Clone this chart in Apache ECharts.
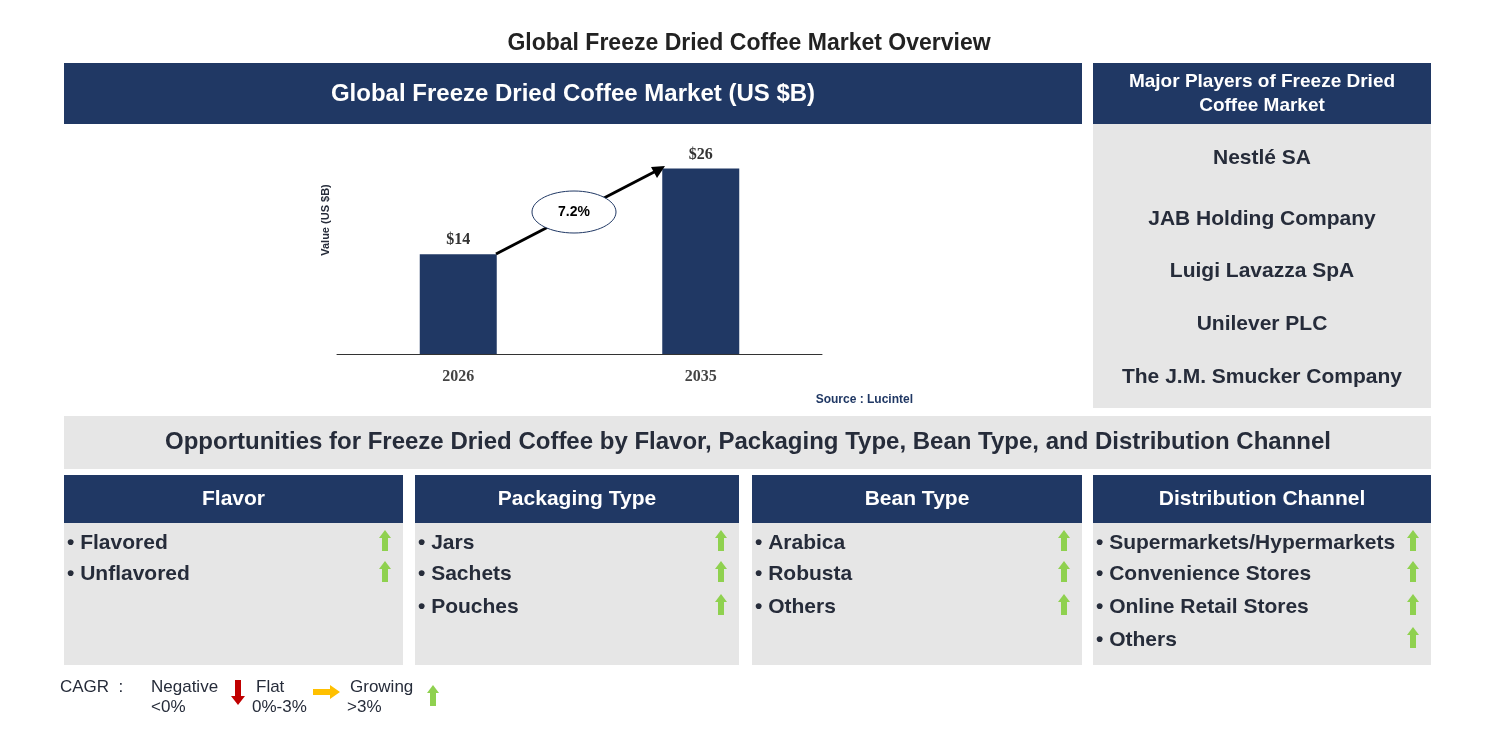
<!DOCTYPE html>
<html>
<head>
<meta charset="utf-8">
<script src="https://cdn.jsdelivr.net/npm/echarts@6/dist/echarts.min.js"></script>
<style>html,body{margin:0;padding:0;background:#fff}#main{width:1496px;height:747px}</style>
</head>
<body>
<div id="main"></div>
<script>
  let years = ['2026', '2035'];
  let values = [14, 26];
  let cagr = '7.2%';
  let players = ['Nestlé SA', 'JAB Holding Company', 'Luigi Lavazza SpA', 'Unilever PLC', 'The J.M. Smucker Company'];
  let segTitles = ['Flavor', 'Packaging Type', 'Bean Type', 'Distribution Channel'];
  let segItems = [
    ['Flavored', 'Unflavored'],
    ['Jars', 'Sachets', 'Pouches'],
    ['Arabica', 'Robusta', 'Others'],
    ['Supermarkets/Hypermarkets', 'Convenience Stores', 'Online Retail Stores', 'Others']
  ];

  let navy = '#203864';
  let grey = '#e6e6e6';
  let ink = '#262c3a';
  let font = 'Liberation Sans, Arial, sans-serif';
  let cols = [[64, 403], [415, 739], [752, 1082], [1093, 1431]];
  let itemY = [543, 574, 607, 640];
  let playerY = [158, 219, 271, 324, 377];

  function upArrow(cx, cy, color) {
    return {type: 'polygon', z: 10, shape: {points: [
      [cx - 3, cy + 10], [cx + 3, cy + 10], [cx + 3, cy - 3], [cx + 6, cy - 3],
      [cx, cy - 11], [cx - 6, cy - 3], [cx - 3, cy - 3]]}, style: {fill: color}};
  }
  function txt(x, y, text, size, opts) {
    return {type: 'text', x: x, y: y, z: 10, style: Object.assign({
      text: text, font: 'bold ' + size + 'px ' + font, fill: ink,
      align: 'center', verticalAlign: 'middle'}, opts || {})};
  }

  let g = [];
  g.push(txt(749, 44, 'Global Freeze Dried Coffee Market Overview', 23, {fill: '#222'}));
  g.push({type: 'rect', shape: {x: 64, y: 63, width: 1018, height: 61}, style: {fill: navy}});
  g.push(txt(573, 94, 'Global Freeze Dried Coffee Market (US $B)', 24, {fill: '#fff'}));
  g.push({type: 'rect', shape: {x: 1093, y: 63, width: 338, height: 61}, style: {fill: navy}});
  g.push(txt(1262, 94, 'Major Players of Freeze Dried\nCoffee Market', 19, {fill: '#fff', lineHeight: 24}));
  g.push({type: 'rect', shape: {x: 1093, y: 124, width: 338, height: 284}, style: {fill: grey}});
  players.forEach(function(p, i) { g.push(txt(1262, playerY[i], p, 21)); });
  g.push({type: 'rect', shape: {x: 64, y: 416, width: 1367, height: 53}, style: {fill: grey}});
  g.push(txt(748, 442, 'Opportunities for Freeze Dried Coffee by Flavor, Packaging Type, Bean Type, and Distribution Channel', 24));
  cols.forEach(function(c, i) {
    g.push({type: 'rect', shape: {x: c[0], y: 475, width: c[1] - c[0], height: 48}, style: {fill: navy}});
    g.push({type: 'rect', shape: {x: c[0], y: 523, width: c[1] - c[0], height: 142}, style: {fill: grey}});
    g.push(txt((c[0] + c[1]) / 2, 499, segTitles[i], 21, {fill: '#fff'}));
    segItems[i].forEach(function(it, j) {
      g.push(txt(c[0] + 3, itemY[j], '• ' + it, 21, {align: 'left'}));
      g.push(upArrow(c[1] - 18, itemY[j] - 2, '#8fd14f'));
    });
  });
  // legend
  let lf = '17px ' + font;
  g.push(txt(60, 687, 'CAGR  :', 17, {font: lf, align: 'left'}));
  g.push(txt(151, 687, 'Negative', 17, {font: lf, align: 'left'}));
  g.push(txt(151, 707, '<0%', 17, {font: lf, align: 'left'}));
  g.push({type: 'polygon', shape: {points: [[235, 680], [241, 680], [241, 696], [245, 696], [238, 705], [231, 696], [235, 696]]}, style: {fill: '#c00000'}});
  g.push(txt(256, 687, 'Flat', 17, {font: lf, align: 'left'}));
  g.push(txt(252, 707, '0%-3%', 17, {font: lf, align: 'left'}));
  g.push({type: 'polygon', shape: {points: [[313, 689], [330, 689], [330, 685], [340, 692], [330, 699], [330, 695], [313, 695]]}, style: {fill: '#ffc000'}});
  g.push(txt(350, 687, 'Growing', 17, {font: lf, align: 'left'}));
  g.push(txt(347, 707, '>3%', 17, {font: lf, align: 'left'}));
  g.push(upArrow(433, 696, '#8fd14f'));
  // chart extras
  g.push({type: 'line', z: 5, shape: {x1: 496, y1: 254, x2: 658, y2: 170}, style: {stroke: '#000', lineWidth: 3}});
  g.push({type: 'polygon', z: 5, shape: {points: [[665, 166], [651, 167], [657, 178]]}, style: {fill: '#000'}});
  g.push({type: 'ellipse', z: 6, shape: {cx: 574, cy: 212, rx: 42, ry: 21}, style: {fill: '#fff', stroke: '#203864', lineWidth: 1}});
  g.push(txt(574, 212, cagr, 14, {fill: '#000'}));
  g.push(txt(913, 400, 'Source : Lucintel', 12, {fill: navy, align: 'right'}));
  g.push({type: 'text', x: 326, y: 220, rotation: Math.PI / 2, z: 10, style: {text: 'Value (US $B)', font: 'bold 11px ' + font, fill: ink, align: 'center', verticalAlign: 'middle'}});

  let chart = echarts.init(document.getElementById('main'));
  chart.setOption({
    animation: false,
    grid: {left: 337, top: 140, width: 485, height: 214},
    xAxis: {type: 'category', data: years,
      axisLine: {lineStyle: {color: '#333', width: 1}}, axisTick: {show: false},
      axisLabel: {margin: 15, fontFamily: 'Liberation Serif', fontWeight: 'bold', fontSize: 16, color: '#444'}},
    yAxis: {type: 'value', min: 0, max: 30, show: false},
    series: [{type: 'bar', data: values, barWidth: 77, itemStyle: {color: navy},
      label: {show: true, position: 'top', distance: 6, formatter: '${c}',
        fontFamily: 'Liberation Serif', fontWeight: 'bold', fontSize: 16, color: '#333'}}],
    graphic: g
  });
</script>
</body>
</html>
